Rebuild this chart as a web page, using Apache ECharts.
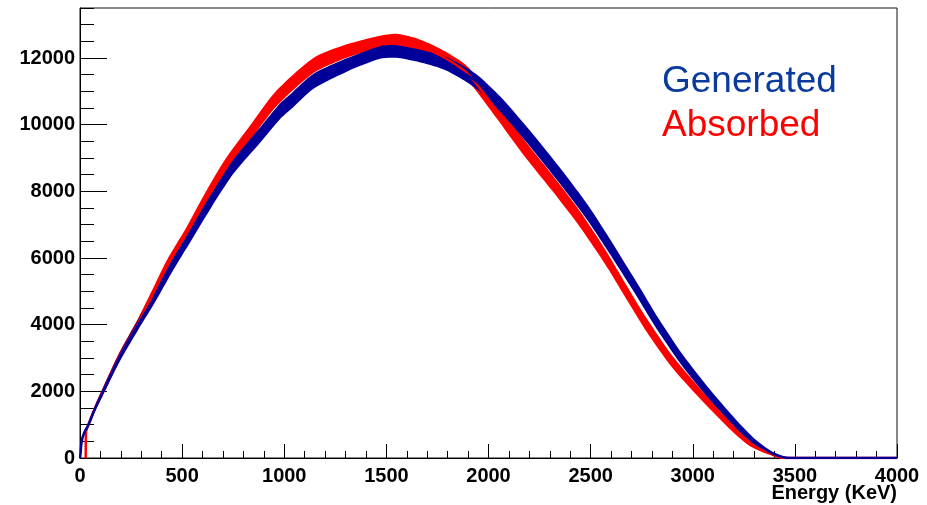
<!DOCTYPE html>
<html>
<head>
<meta charset="utf-8">
<script src="https://cdn.jsdelivr.net/npm/echarts@6/dist/echarts.min.js"></script>
<style>
  html, body { margin: 0; padding: 0; background: #ffffff; }
  #chart { width: 927px; height: 505px; }
</style>
</head>
<body>
<div id="chart"></div>
<script>
// Energy spectra (counts per bin) for generated and absorbed events.
// Spread = vertical width of the statistical-noise band around each curve.
const generatedEnergy = [0, 3, 8, 20, 41, 73, 111, 192, 285, 367, 449, 547, 645, 751, 889, 979, 1041, 1143, 1306, 1469, 1550, 1632, 1714, 1795, 1877, 1950, 2060, 2228, 2366, 2488, 2595, 2677, 2733, 2831, 2953, 3084, 3231, 3313, 3394, 3476, 4000];
const generatedCounts = [0, 150, 490, 750, 990, 1470, 1970, 3000, 4000, 4840, 5740, 6740, 7740, 8740, 9740, 10400, 10740, 11300, 11790, 12165, 12195, 12105, 11985, 11820, 11550, 11250, 10600, 9400, 8340, 7340, 6340, 5540, 4990, 4000, 2900, 1900, 900, 440, 130, 0, 0];
const generatedSpread = [0, 0, 60, 100, 130, 170, 220, 270, 310, 340, 360, 380, 400, 430, 460, 470, 470, 450, 400, 380, 380, 380, 390, 400, 420, 440, 460, 480, 480, 470, 450, 430, 420, 400, 360, 310, 240, 170, 90, 0, 0];

const absorbedEnergy = [28, 29, 41, 73, 111, 192, 285, 351, 424, 522, 612, 710, 832, 955, 1143, 1306, 1469, 1550, 1632, 1714, 1795, 1877, 1919, 2040, 2163, 2309, 2432, 2537, 2587, 2632, 2677, 2774, 2896, 3035, 3190, 3280, 3378, 3443, 4000];
const absorbedCounts = [0, 760, 1000, 1490, 1990, 3030, 4040, 4840, 5740, 6740, 7740, 8740, 9740, 10740, 11775, 12210, 12480, 12540, 12430, 12230, 11970, 11640, 11390, 10420, 9400, 8280, 7300, 6360, 5880, 5420, 4960, 3990, 2920, 1940, 940, 440, 140, 0, 0];
const absorbedSpread = [0, 80, 130, 170, 220, 270, 310, 340, 360, 380, 400, 430, 460, 470, 450, 400, 380, 380, 380, 390, 400, 420, 430, 460, 480, 480, 470, 450, 440, 430, 420, 400, 360, 310, 240, 170, 90, 0, 0];

const seriesNames = ['Generated', 'Absorbed'];
const xAxisName = 'Energy (KeV)';

const FONT = '"Liberation Sans", Arial, Helvetica, sans-serif';
const BLUE = '#000099';
const RED = '#ff0000';

function points(xs, ys) { return xs.map((x, i) => [x, ys[i]]); }

// Noise band: one filled polygon (upper edge forward, lower edge back),
// placed through the axis scales with api.coord.
function bandSeries(name, xs, ys, spread, color) {
  return {
    name: name + ' band', type: 'custom', silent: true, clip: true,
    data: xs.map((x, i) => [x, ys[i], spread[i]]),
    encode: { x: 0, y: 1 },
    renderItem: function (params, api) {
      if (params.dataIndex !== 0) return null;
      const pts = [];
      for (let i = 0; i < xs.length; i++) pts.push(api.coord([xs[i], ys[i] + spread[i] / 2]));
      for (let i = xs.length - 1; i >= 0; i--) pts.push(api.coord([xs[i], Math.max(0, ys[i] - spread[i] / 2)]));
      return { type: 'polygon', shape: { points: pts, smooth: 0.25 }, style: { fill: color } };
    }
  };
}

function lineSeries(name, xs, ys, color) {
  return { name: name, type: 'line', data: points(xs, ys), symbol: 'none', smooth: 0.4,
    lineStyle: { color: color, width: 2.5 }, itemStyle: { color: color } };
}

const chart = echarts.init(document.getElementById('chart'), null, { renderer: 'canvas' });

const tickStyle = { color: '#000', width: 1 };
const plain = v => String(v);

chart.setOption({
  animation: false,
  backgroundColor: '#ffffff',
  title: {
    text: xAxisName, right: 30, top: 483, padding: 0,
    textStyle: { fontFamily: FONT, fontWeight: 'bold', fontSize: 20, color: '#000' }
  },
  grid: { left: 80, right: 30, top: 8, bottom: 47, containLabel: false, outerBoundsMode: 'none',
    show: true, borderColor: '#111', borderWidth: 1, backgroundColor: 'transparent' },
  legend: {
    orient: 'vertical', left: 652, top: 55, itemGap: 0,
    itemWidth: 0, itemHeight: 0, icon: 'none', selectedMode: false,
    textStyle: { fontFamily: FONT, fontSize: 37, lineHeight: 44 },
    data: [
      { name: seriesNames[0], textStyle: { color: '#0a3a9c' } },
      { name: seriesNames[1], textStyle: { color: RED } }
    ]
  },
  xAxis: [
    { type: 'value', min: 0, max: 4000, interval: 500, position: 'bottom',
      axisLine: { show: true, onZero: false, lineStyle: tickStyle },
      axisTick: { show: true, inside: true, length: 14, lineStyle: tickStyle },
      axisLabel: { fontFamily: FONT, fontWeight: 'bold', fontSize: 20, color: '#000', margin: 8, formatter: plain },
      splitLine: { show: false } },
    { type: 'value', min: 0, max: 4000, interval: 100, position: 'bottom',
      axisLine: { show: false }, axisLabel: { show: false }, splitLine: { show: false },
      axisTick: { show: true, inside: true, length: 7, lineStyle: tickStyle } }
  ],
  yAxis: [
    { type: 'value', min: 0, max: 13500, interval: 2000, position: 'left',
      axisLine: { show: true, onZero: false, lineStyle: tickStyle },
      axisTick: { show: true, inside: true, length: 27, lineStyle: tickStyle },
      axisLabel: { fontFamily: FONT, fontWeight: 'bold', fontSize: 20, color: '#000', margin: 5,
        showMaxLabel: false, formatter: plain },
      splitLine: { show: false } },
    { type: 'value', min: 0, max: 13500, interval: 500, position: 'left',
      axisLine: { show: false }, axisLabel: { show: false }, splitLine: { show: false },
      axisTick: { show: true, inside: true, length: 14, lineStyle: tickStyle } }
  ],
  series: [
    bandSeries(seriesNames[1], absorbedEnergy, absorbedCounts, absorbedSpread, RED),
    lineSeries(seriesNames[1], absorbedEnergy, absorbedCounts, RED),
    bandSeries(seriesNames[0], generatedEnergy, generatedCounts, generatedSpread, BLUE),
    lineSeries(seriesNames[0], generatedEnergy, generatedCounts, BLUE)
  ]
});
</script>
</body>
</html>
